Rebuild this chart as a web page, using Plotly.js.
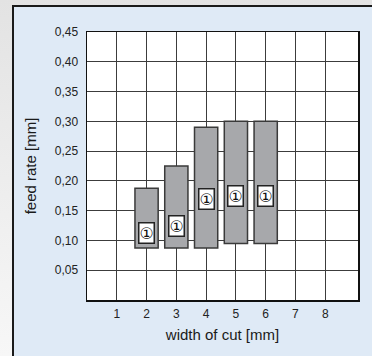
<!DOCTYPE html>
<html>
<head>
<meta charset="utf-8">
<script src="https://cdn.plot.ly/plotly-3.0.1.min.js"></script>
<style>
  html, body { margin: 0; padding: 0; }
  body { width: 372px; height: 356px; overflow: hidden; background: linear-gradient(#e3e3e3, #f7f7f7); position: relative; }
  #chart { position: absolute; left: 12px; top: 5px; width: 358px; height: 349px; border-left: 2px solid #1a1a1a; border-top: 2px solid #1a1a1a; }
</style>
</head>
<body>
<div id="chart"></div>
<script>
// Data
const widths = [2, 3, 4, 5, 6];
const feedMin = [0.0875, 0.0875, 0.0875, 0.095, 0.095];
const feedMax = [0.1875, 0.225, 0.29, 0.30, 0.30];
const markerY = [0.113, 0.125, 0.169, 0.174, 0.174];
const markerLabel = ['①', '①', '①', '①', '①'];
const xTicks = [1, 2, 3, 4, 5, 6, 7, 8];
const xTickText = ['1', '2', '3', '4', '5', '6', '7', '8'];
const yTicks = [0.05, 0.10, 0.15, 0.20, 0.25, 0.30, 0.35, 0.40, 0.45];
const yTickText = ['0,05', '0,10', '0,15', '0,20', '0,25', '0,30', '0,35', '0,40', '0,45'];

const heights = feedMax.map((v, i) => v - feedMin[i]);

const trace = {
  type: 'bar',
  x: widths,
  y: heights,
  base: feedMin,
  width: 0.78,
  marker: { color: '#a7a8ab', line: { color: '#3a3a3a', width: 1.5 } },
  hoverinfo: 'skip',
  showlegend: false
};

const annotations = widths.map((w, i) => ({
  x: w, y: markerY[i], xref: 'x', yref: 'y',
  text: markerLabel[i], showarrow: false,
  font: { family: 'DejaVu Sans', size: 16, color: '#111' },
  bgcolor: '#ffffff', bordercolor: '#222', borderwidth: 1.5, borderpad: 0
}));

const font = 'Liberation Sans, Arial, sans-serif';

const layout = {
  width: 358, height: 349,
  margin: { l: 73, r: 14, t: 25, b: 56 },
  paper_bgcolor: '#dfeaf6',
  plot_bgcolor: '#ffffff',
  font: { family: font, size: 12, color: '#222' },
  xaxis: {
    range: [0, 9.1], tickvals: xTicks, ticktext: xTickText,
    showgrid: true, gridcolor: '#3c3c3c', gridwidth: 1,
    zeroline: false, showline: true, mirror: true, linecolor: '#111', linewidth: 1.5,
    ticks: '', ticklabelstandoff: 2, fixedrange: true,
    tickfont: { family: font, size: 12, color: '#222' },
    title: { text: 'width of cut [mm]', font: { family: font, size: 15, color: '#1a1a1a' }, standoff: 9 }
  },
  yaxis: {
    range: [0, 0.45], tickvals: yTicks, ticktext: yTickText,
    showgrid: true, gridcolor: '#3c3c3c', gridwidth: 1,
    zeroline: false, showline: true, mirror: true, linecolor: '#111', linewidth: 1.5,
    ticks: '', ticklabelstandoff: 5, fixedrange: true,
    tickfont: { family: font, size: 12, color: '#222' },
    title: { text: 'feed rate [mm]', font: { family: font, size: 15, color: '#1a1a1a' }, standoff: 14 }
  },
  annotations: annotations,
  bargap: 0.2
};

Plotly.newPlot('chart', [trace], layout, { displayModeBar: false, staticPlot: true });
</script>
</body>
</html>
